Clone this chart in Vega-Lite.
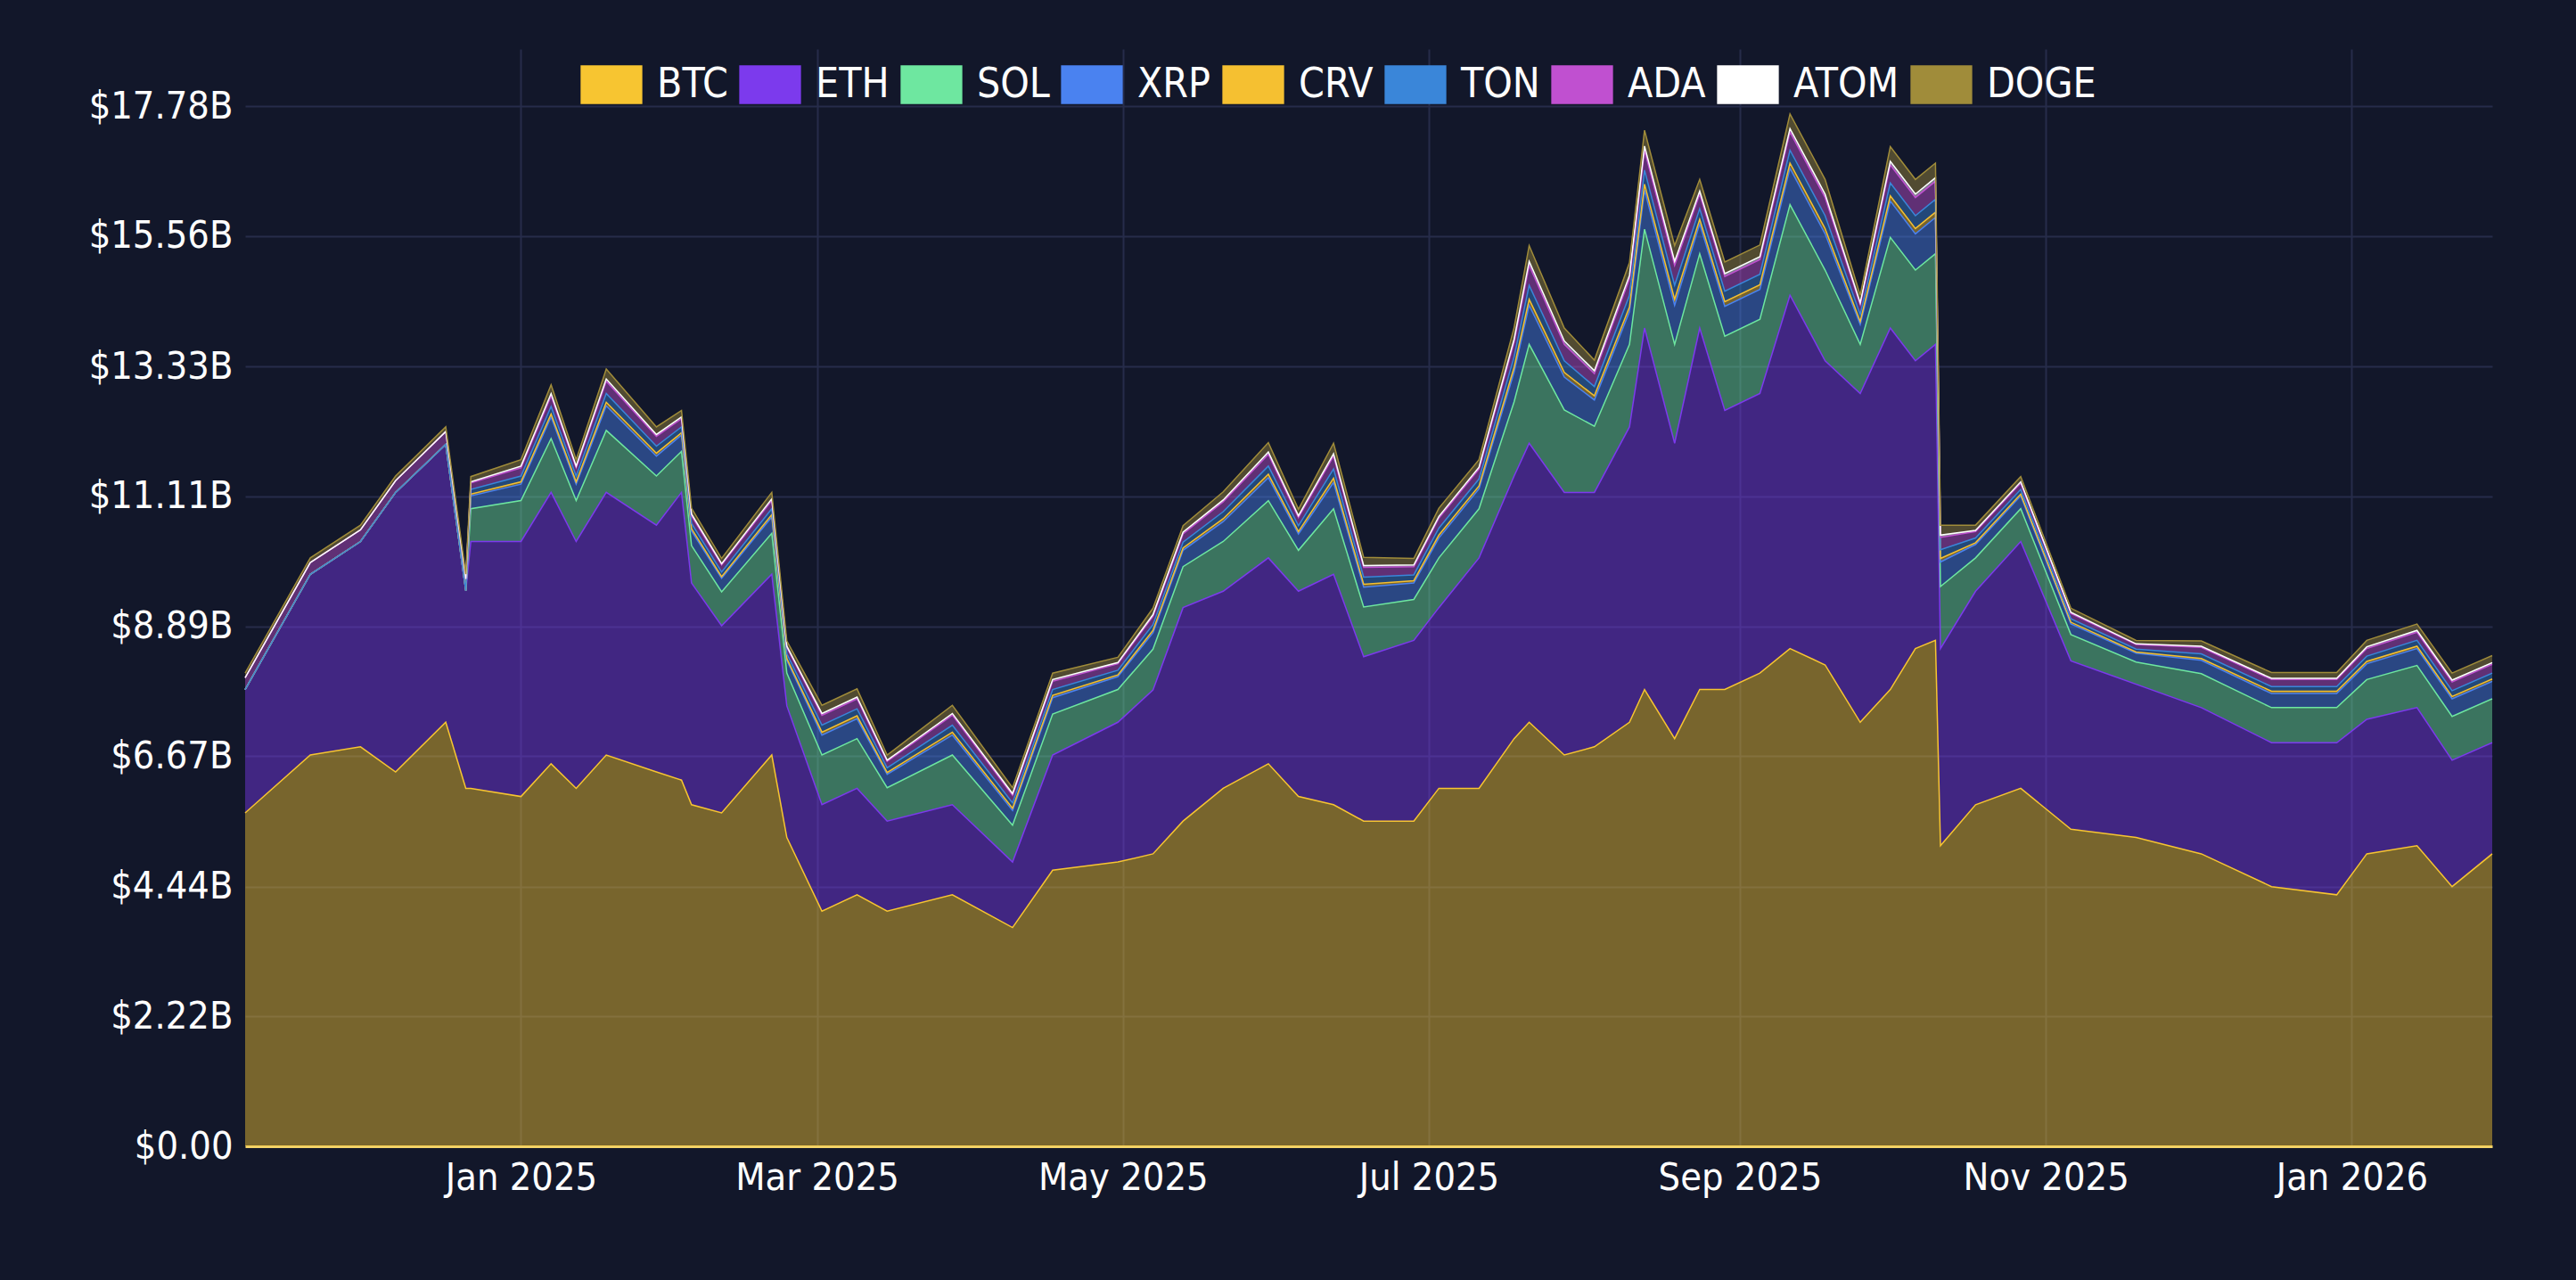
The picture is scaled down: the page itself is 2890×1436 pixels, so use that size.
{
  "$schema": "https://vega.github.io/schema/vega-lite/v6.json",
  "width": 2521,
  "height": 1231,
  "autosize": {"type": "none"},
  "padding": {"left": 275, "top": 55, "right": 94, "bottom": 150},
  "background": "#12172a",
  "config": {
    "view": {"stroke": null},
    "font": "DejaVu Sans Condensed, DejaVu Sans",
    "axis": {"labelColor": "#ffffff", "labelFontSize": 43, "labelLimit": 400, "labelOverlap": false, "gridColor": "#262c4a", "gridWidth": 2, "ticks": false, "title": null, "labelPadding": 14}
  },
  "data": {
    "values": [
      {"d": "2024-11-07", "BTC": 5.70, "ETH": 2.11, "SOL": 0, "XRP": 0, "CRV": 0, "TON": 0, "ADA": 0.20, "ATOM": 0, "DOGE": 0.08},
      {"d": "2024-11-20", "BTC": 6.69, "ETH": 3.09, "SOL": 0, "XRP": 0, "CRV": 0, "TON": 0, "ADA": 0.20, "ATOM": 0, "DOGE": 0.08},
      {"d": "2024-11-30", "BTC": 6.83, "ETH": 3.51, "SOL": 0, "XRP": 0, "CRV": 0, "TON": 0, "ADA": 0.20, "ATOM": 0, "DOGE": 0.08},
      {"d": "2024-12-07", "BTC": 6.40, "ETH": 4.78, "SOL": 0, "XRP": 0, "CRV": 0, "TON": 0, "ADA": 0.20, "ATOM": 0, "DOGE": 0.08},
      {"d": "2024-12-17", "BTC": 7.25, "ETH": 4.75, "SOL": 0, "XRP": 0, "CRV": 0, "TON": 0, "ADA": 0.22, "ATOM": 0, "DOGE": 0.08},
      {"d": "2024-12-21", "BTC": 6.12, "ETH": 3.38, "SOL": 0, "XRP": 0, "CRV": 0, "TON": 0, "ADA": 0.20, "ATOM": 0, "DOGE": 0.08},
      {"d": "2024-12-22", "BTC": 6.12, "ETH": 4.22, "SOL": 0.56, "XRP": 0.22, "CRV": 0.03, "TON": 0.08, "ADA": 0.11, "ATOM": 0.02, "DOGE": 0.09},
      {"d": "2025-01-01", "BTC": 5.98, "ETH": 4.36, "SOL": 0.70, "XRP": 0.28, "CRV": 0.04, "TON": 0.10, "ADA": 0.14, "ATOM": 0.03, "DOGE": 0.11},
      {"d": "2025-01-07", "BTC": 6.54, "ETH": 4.64, "SOL": 0.92, "XRP": 0.37, "CRV": 0.05, "TON": 0.13, "ADA": 0.18, "ATOM": 0.04, "DOGE": 0.15},
      {"d": "2025-01-12", "BTC": 6.12, "ETH": 4.22, "SOL": 0.70, "XRP": 0.28, "CRV": 0.04, "TON": 0.10, "ADA": 0.14, "ATOM": 0.03, "DOGE": 0.11},
      {"d": "2025-01-18", "BTC": 6.69, "ETH": 4.49, "SOL": 1.06, "XRP": 0.42, "CRV": 0.06, "TON": 0.15, "ADA": 0.21, "ATOM": 0.04, "DOGE": 0.17},
      {"d": "2025-01-28", "BTC": 6.40, "ETH": 4.22, "SOL": 0.84, "XRP": 0.34, "CRV": 0.05, "TON": 0.12, "ADA": 0.17, "ATOM": 0.03, "DOGE": 0.13},
      {"d": "2025-02-02", "BTC": 6.26, "ETH": 4.92, "SOL": 0.70, "XRP": 0.28, "CRV": 0.04, "TON": 0.10, "ADA": 0.14, "ATOM": 0.03, "DOGE": 0.11},
      {"d": "2025-02-04", "BTC": 5.84, "ETH": 3.79, "SOL": 0.64, "XRP": 0.25, "CRV": 0.04, "TON": 0.09, "ADA": 0.13, "ATOM": 0.03, "DOGE": 0.10},
      {"d": "2025-02-10", "BTC": 5.70, "ETH": 3.20, "SOL": 0.58, "XRP": 0.23, "CRV": 0.03, "TON": 0.08, "ADA": 0.12, "ATOM": 0.02, "DOGE": 0.09},
      {"d": "2025-02-20", "BTC": 6.69, "ETH": 3.09, "SOL": 0.70, "XRP": 0.28, "CRV": 0.04, "TON": 0.10, "ADA": 0.14, "ATOM": 0.03, "DOGE": 0.11},
      {"d": "2025-02-23", "BTC": 5.28, "ETH": 2.25, "SOL": 0.56, "XRP": 0.22, "CRV": 0.03, "TON": 0.08, "ADA": 0.11, "ATOM": 0.02, "DOGE": 0.09},
      {"d": "2025-03-02", "BTC": 4.02, "ETH": 1.82, "SOL": 0.85, "XRP": 0.34, "CRV": 0.05, "TON": 0.12, "ADA": 0.17, "ATOM": 0.03, "DOGE": 0.14},
      {"d": "2025-03-09", "BTC": 4.30, "ETH": 1.82, "SOL": 0.85, "XRP": 0.34, "CRV": 0.05, "TON": 0.12, "ADA": 0.17, "ATOM": 0.03, "DOGE": 0.14},
      {"d": "2025-03-15", "BTC": 4.02, "ETH": 1.54, "SOL": 0.57, "XRP": 0.23, "CRV": 0.03, "TON": 0.08, "ADA": 0.11, "ATOM": 0.02, "DOGE": 0.09},
      {"d": "2025-03-28", "BTC": 4.30, "ETH": 1.54, "SOL": 0.85, "XRP": 0.34, "CRV": 0.05, "TON": 0.12, "ADA": 0.17, "ATOM": 0.03, "DOGE": 0.14},
      {"d": "2025-04-09", "BTC": 3.74, "ETH": 1.12, "SOL": 0.63, "XRP": 0.25, "CRV": 0.04, "TON": 0.09, "ADA": 0.13, "ATOM": 0.03, "DOGE": 0.10},
      {"d": "2025-04-17", "BTC": 4.72, "ETH": 1.97, "SOL": 0.70, "XRP": 0.28, "CRV": 0.04, "TON": 0.10, "ADA": 0.14, "ATOM": 0.03, "DOGE": 0.11},
      {"d": "2025-04-30", "BTC": 4.86, "ETH": 2.39, "SOL": 0.56, "XRP": 0.22, "CRV": 0.03, "TON": 0.08, "ADA": 0.11, "ATOM": 0.02, "DOGE": 0.09},
      {"d": "2025-05-07", "BTC": 5.00, "ETH": 2.80, "SOL": 0.70, "XRP": 0.28, "CRV": 0.04, "TON": 0.10, "ADA": 0.14, "ATOM": 0.03, "DOGE": 0.11},
      {"d": "2025-05-13", "BTC": 5.56, "ETH": 3.65, "SOL": 0.70, "XRP": 0.28, "CRV": 0.04, "TON": 0.10, "ADA": 0.14, "ATOM": 0.03, "DOGE": 0.11},
      {"d": "2025-05-21", "BTC": 6.12, "ETH": 3.37, "SOL": 0.85, "XRP": 0.34, "CRV": 0.05, "TON": 0.12, "ADA": 0.17, "ATOM": 0.03, "DOGE": 0.14},
      {"d": "2025-05-30", "BTC": 6.54, "ETH": 3.52, "SOL": 0.98, "XRP": 0.39, "CRV": 0.06, "TON": 0.14, "ADA": 0.20, "ATOM": 0.04, "DOGE": 0.16},
      {"d": "2025-06-05", "BTC": 5.98, "ETH": 3.51, "SOL": 0.70, "XRP": 0.28, "CRV": 0.04, "TON": 0.10, "ADA": 0.14, "ATOM": 0.03, "DOGE": 0.11},
      {"d": "2025-06-12", "BTC": 5.84, "ETH": 3.94, "SOL": 1.12, "XRP": 0.45, "CRV": 0.07, "TON": 0.16, "ADA": 0.22, "ATOM": 0.04, "DOGE": 0.18},
      {"d": "2025-06-18", "BTC": 5.56, "ETH": 2.81, "SOL": 0.85, "XRP": 0.34, "CRV": 0.05, "TON": 0.12, "ADA": 0.17, "ATOM": 0.03, "DOGE": 0.14},
      {"d": "2025-06-28", "BTC": 5.56, "ETH": 3.09, "SOL": 0.70, "XRP": 0.28, "CRV": 0.04, "TON": 0.10, "ADA": 0.14, "ATOM": 0.03, "DOGE": 0.11},
      {"d": "2025-07-03", "BTC": 6.12, "ETH": 3.09, "SOL": 0.85, "XRP": 0.34, "CRV": 0.05, "TON": 0.12, "ADA": 0.17, "ATOM": 0.03, "DOGE": 0.14},
      {"d": "2025-07-11", "BTC": 6.12, "ETH": 3.94, "SOL": 0.84, "XRP": 0.34, "CRV": 0.05, "TON": 0.12, "ADA": 0.17, "ATOM": 0.03, "DOGE": 0.13},
      {"d": "2025-07-18", "BTC": 6.97, "ETH": 4.49, "SOL": 1.27, "XRP": 0.51, "CRV": 0.08, "TON": 0.18, "ADA": 0.25, "ATOM": 0.05, "DOGE": 0.20},
      {"d": "2025-07-21", "BTC": 7.25, "ETH": 4.77, "SOL": 1.69, "XRP": 0.67, "CRV": 0.10, "TON": 0.24, "ADA": 0.34, "ATOM": 0.07, "DOGE": 0.27},
      {"d": "2025-07-28", "BTC": 6.69, "ETH": 4.49, "SOL": 1.41, "XRP": 0.56, "CRV": 0.08, "TON": 0.20, "ADA": 0.28, "ATOM": 0.06, "DOGE": 0.22},
      {"d": "2025-08-03", "BTC": 6.83, "ETH": 4.35, "SOL": 1.13, "XRP": 0.45, "CRV": 0.07, "TON": 0.16, "ADA": 0.22, "ATOM": 0.05, "DOGE": 0.18},
      {"d": "2025-08-10", "BTC": 7.25, "ETH": 5.05, "SOL": 1.41, "XRP": 0.56, "CRV": 0.08, "TON": 0.20, "ADA": 0.28, "ATOM": 0.06, "DOGE": 0.22},
      {"d": "2025-08-13", "BTC": 7.81, "ETH": 6.18, "SOL": 1.69, "XRP": 0.67, "CRV": 0.10, "TON": 0.24, "ADA": 0.34, "ATOM": 0.07, "DOGE": 0.27},
      {"d": "2025-08-19", "BTC": 6.97, "ETH": 5.05, "SOL": 1.69, "XRP": 0.67, "CRV": 0.10, "TON": 0.24, "ADA": 0.34, "ATOM": 0.07, "DOGE": 0.27},
      {"d": "2025-08-24", "BTC": 7.81, "ETH": 6.18, "SOL": 1.27, "XRP": 0.51, "CRV": 0.08, "TON": 0.18, "ADA": 0.25, "ATOM": 0.05, "DOGE": 0.20},
      {"d": "2025-08-29", "BTC": 7.81, "ETH": 4.77, "SOL": 1.27, "XRP": 0.51, "CRV": 0.08, "TON": 0.18, "ADA": 0.25, "ATOM": 0.05, "DOGE": 0.20},
      {"d": "2025-09-05", "BTC": 8.09, "ETH": 4.78, "SOL": 1.27, "XRP": 0.51, "CRV": 0.08, "TON": 0.18, "ADA": 0.25, "ATOM": 0.05, "DOGE": 0.20},
      {"d": "2025-09-11", "BTC": 8.51, "ETH": 6.04, "SOL": 1.55, "XRP": 0.62, "CRV": 0.09, "TON": 0.22, "ADA": 0.31, "ATOM": 0.06, "DOGE": 0.25},
      {"d": "2025-09-18", "BTC": 8.23, "ETH": 5.20, "SOL": 1.55, "XRP": 0.62, "CRV": 0.09, "TON": 0.22, "ADA": 0.31, "ATOM": 0.06, "DOGE": 0.25},
      {"d": "2025-09-25", "BTC": 7.25, "ETH": 5.62, "SOL": 0.84, "XRP": 0.34, "CRV": 0.05, "TON": 0.12, "ADA": 0.17, "ATOM": 0.03, "DOGE": 0.13},
      {"d": "2025-10-01", "BTC": 7.81, "ETH": 6.18, "SOL": 1.55, "XRP": 0.62, "CRV": 0.09, "TON": 0.22, "ADA": 0.31, "ATOM": 0.06, "DOGE": 0.25},
      {"d": "2025-10-06", "BTC": 8.51, "ETH": 4.92, "SOL": 1.55, "XRP": 0.62, "CRV": 0.09, "TON": 0.22, "ADA": 0.31, "ATOM": 0.06, "DOGE": 0.25},
      {"d": "2025-10-10", "BTC": 8.65, "ETH": 5.06, "SOL": 1.55, "XRP": 0.62, "CRV": 0.09, "TON": 0.22, "ADA": 0.31, "ATOM": 0.06, "DOGE": 0.25},
      {"d": "2025-10-11", "BTC": 5.14, "ETH": 3.37, "SOL": 1.06, "XRP": 0.42, "CRV": 0.06, "TON": 0.15, "ADA": 0.21, "ATOM": 0.04, "DOGE": 0.17},
      {"d": "2025-10-18", "BTC": 5.84, "ETH": 3.65, "SOL": 0.57, "XRP": 0.23, "CRV": 0.03, "TON": 0.08, "ADA": 0.11, "ATOM": 0.02, "DOGE": 0.09},
      {"d": "2025-10-27", "BTC": 6.12, "ETH": 4.22, "SOL": 0.56, "XRP": 0.22, "CRV": 0.03, "TON": 0.08, "ADA": 0.11, "ATOM": 0.02, "DOGE": 0.09},
      {"d": "2025-11-06", "BTC": 5.42, "ETH": 2.88, "SOL": 0.45, "XRP": 0.18, "CRV": 0.03, "TON": 0.06, "ADA": 0.09, "ATOM": 0.02, "DOGE": 0.07},
      {"d": "2025-11-19", "BTC": 5.28, "ETH": 2.62, "SOL": 0.38, "XRP": 0.15, "CRV": 0.02, "TON": 0.05, "ADA": 0.08, "ATOM": 0.01, "DOGE": 0.06},
      {"d": "2025-12-02", "BTC": 5.00, "ETH": 2.50, "SOL": 0.58, "XRP": 0.23, "CRV": 0.03, "TON": 0.08, "ADA": 0.11, "ATOM": 0.02, "DOGE": 0.09},
      {"d": "2025-12-16", "BTC": 4.44, "ETH": 2.46, "SOL": 0.60, "XRP": 0.24, "CRV": 0.04, "TON": 0.08, "ADA": 0.12, "ATOM": 0.02, "DOGE": 0.10},
      {"d": "2025-12-29", "BTC": 4.30, "ETH": 2.60, "SOL": 0.60, "XRP": 0.24, "CRV": 0.04, "TON": 0.08, "ADA": 0.12, "ATOM": 0.02, "DOGE": 0.10},
      {"d": "2026-01-04", "BTC": 5.00, "ETH": 2.30, "SOL": 0.68, "XRP": 0.27, "CRV": 0.04, "TON": 0.09, "ADA": 0.13, "ATOM": 0.03, "DOGE": 0.11},
      {"d": "2026-01-14", "BTC": 5.14, "ETH": 2.36, "SOL": 0.72, "XRP": 0.29, "CRV": 0.04, "TON": 0.10, "ADA": 0.14, "ATOM": 0.03, "DOGE": 0.11},
      {"d": "2026-01-21", "BTC": 4.44, "ETH": 2.16, "SOL": 0.75, "XRP": 0.30, "CRV": 0.04, "TON": 0.10, "ADA": 0.15, "ATOM": 0.03, "DOGE": 0.12},
      {"d": "2026-01-29", "BTC": 5.00, "ETH": 1.90, "SOL": 0.75, "XRP": 0.30, "CRV": 0.04, "TON": 0.10, "ADA": 0.15, "ATOM": 0.03, "DOGE": 0.12}
    ]
  },
  "transform": [
    {"fold": ["BTC", "ETH", "SOL", "XRP", "CRV", "TON", "ADA", "ATOM", "DOGE"], "as": ["coin", "vol"]},
    {
      "lookup": "coin",
      "from": {
        "data": {"values": [
          {"coin": "BTC", "i": 0}, {"coin": "ETH", "i": 1}, {"coin": "SOL", "i": 2},
          {"coin": "XRP", "i": 3}, {"coin": "CRV", "i": 4}, {"coin": "TON", "i": 5},
          {"coin": "ADA", "i": 6}, {"coin": "ATOM", "i": 7}, {"coin": "DOGE", "i": 8}
        ]},
        "key": "coin",
        "fields": ["i"]
      }
    }
  ],
  "mark": {"type": "area", "fillOpacity": 0.45, "line": {"strokeWidth": 1.5}, "interpolate": "linear"},
  "encoding": {
    "x": {
      "field": "d", "type": "temporal",
      "scale": {"type": "utc", "domain": ["2024-11-07", "2026-01-29"]},
      "axis": {
        "labelExpr": "utcFormat(datum.value, '%b %Y')", "domainColor": "#f2d36b", "domainWidth": 3,
        "values": [
          {"year": 2025, "month": 1, "date": 1, "utc": true},
          {"year": 2025, "month": 3, "date": 1, "utc": true},
          {"year": 2025, "month": 5, "date": 1, "utc": true},
          {"year": 2025, "month": 7, "date": 1, "utc": true},
          {"year": 2025, "month": 9, "date": 1, "utc": true},
          {"year": 2025, "month": 11, "date": 1, "utc": true},
          {"year": 2026, "month": 1, "date": 1, "utc": true}
        ]
      }
    },
    "y": {
      "field": "vol", "type": "quantitative", "stack": "zero",
      "scale": {"domain": [0, 18.76], "nice": false},
      "axis": {
        "domain": false,
        "values": [0, 2.22, 4.44, 6.67, 8.89, 11.11, 13.33, 15.56, 17.78],
        "labelExpr": "datum.value == 0 ? '$0.00' : '$' + format(datum.value, '.2f') + 'B'"
      }
    },
    "order": {"field": "i", "type": "quantitative", "sort": "ascending"},
    "color": {
      "field": "coin", "type": "nominal",
      "scale": {
        "domain": ["BTC", "ETH", "SOL", "XRP", "CRV", "TON", "ADA", "ATOM", "DOGE"],
        "range": ["#f7c531", "#7c3aed", "#6ee7a0", "#4a82f0", "#f5c031", "#3a86d9", "#c050d0", "#ffffff", "#a08c3a"]
      },
      "legend": {
        "title": null, "orient": "none", "direction": "horizontal",
        "legendX": 376, "legendY": 5,
        "symbolType": "M-1,-0.63H1V0.63H-1Z", "symbolSize": 4800, "symbolOpacity": 1, "symbolStrokeWidth": 0,
        "labelColor": "#ffffff", "labelFontSize": 46, "columnPadding": 12, "labelOffset": 16
      }
    }
  }
}
